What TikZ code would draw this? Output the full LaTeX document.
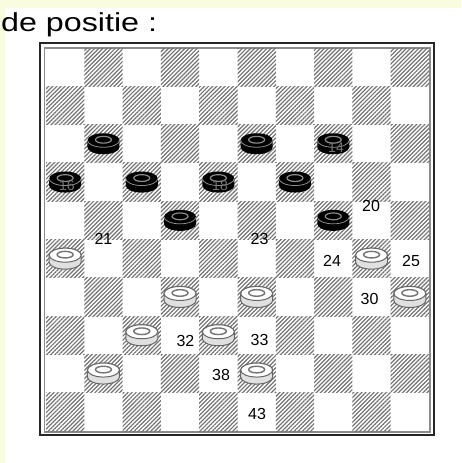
\documentclass[tikz,border=0pt]{standalone}
\usepackage{fontspec}
\setmainfont{Liberation Sans}
\usetikzlibrary{patterns.meta}
\definecolor{bgyellow}{RGB}{250,252,224}
\tikzset{
  hatch/.style={pattern={Lines[angle=45,distance=2.9pt,line width=1.2pt]}, pattern color=black!55},
  lbl/.style={font=\fontsize{16}{16}\selectfont, inner sep=0pt},
  ghost/.style={font=\fontsize{14}{14}\selectfont, inner sep=0pt, text=black!55},
  pbody/.style={insert path={(-16,3.5) -- (-16,-3.5) arc[start angle=180,end angle=360,x radius=16,y radius=7] -- (16,3.5) arc[start angle=0,end angle=180,x radius=16,y radius=7] -- cycle}},
  blackman/.pic={
    \fill[black] [pbody];
    \draw[black!45, line width=0.8] (-16,3.5) arc[start angle=180,end angle=360,x radius=16,y radius=7];
    \draw[black!45, line width=1.2] (0,4) ellipse[x radius=8, y radius=3.4];
  },
  whiteman/.pic={
    \filldraw[fill=black!12, draw=black!60, line width=1] [pbody];
    \filldraw[fill=white, draw=black!60, line width=1] (0,3.5) ellipse[x radius=16, y radius=7];
    \draw[black!55, line width=1.4] (0,4) ellipse[x radius=8, y radius=3.3];
  }
}
\begin{document}
\begin{tikzpicture}[x=1pt,y=1pt]
\useasboundingbox (0,0) rectangle (461,-463);
\fill[bgyellow] (0,0) rectangle (461,-463);
\fill[white] (5,-8) rectangle (461,-463);
\node[anchor=base west, inner sep=0pt] (title) at (1,-31) {\scalebox{1.24}[1]{\fontsize{26}{26}\selectfont de positie :}};
% frame
\draw[black!85, line width=2] (40,-43.3) rectangle (434.3,-435);
\draw[black!45, line width=1.2] (44.8,-48) rectangle (430,-432);
% squares
\foreach \r in {1,...,10} {
  \foreach \c in {1,...,10} {
    \pgfmathtruncatemacro\odd{mod(\r+\c,2)}
    \ifnum\odd=1
      \fill[hatch] ({46+(\c-1)*38.3},{-48-(\r-1)*38.3}) rectangle ++(38.3,-38.3);
    \fi
  }
}
% black pieces
\foreach \r/\c/\n in {3/2/11,3/6/13,3/8/14,4/1/16,4/3/17,4/5/18,4/7/19,5/4/22,5/8/24} {
  \pic (b\n) at ({46+(\c-0.5)*38.3},{-48-(\r-0.5)*38.3}) {blackman};
}
% white pieces
\foreach \r/\c/\n in {6/1/26,6/9/30,7/4/32,7/6/33,7/10/35,8/3/37,8/5/38,9/2/42,9/6/44} {
  \pic (w\n) at ({46+(\c-0.5)*38.3},{-48-(\r-0.5)*38.3}) {whiteman};
}
% faint numbers on pieces
\node[ghost] (g14) at (336,-148) {14};
\node[ghost] (g16) at (67,-186) {16};
\node[ghost] (g18) at (220,-186) {18};
% square numbers
\node[lbl] (l20) at (371,-205.5) {20};
\node[lbl] (l21) at (103.5,-239) {21};
\node[lbl] (l23) at (259.5,-239) {23};
\node[lbl] (l24) at (332,-261) {24};
\node[lbl] (l25) at (411,-261) {25};
\node[lbl] (l30) at (369.5,-298.5) {30};
\node[lbl] (l32) at (185.5,-340.5) {32};
\node[lbl] (l33) at (259.5,-340) {33};
\node[lbl] (l38) at (221,-374.5) {38};
\node[lbl] (l43) at (257,-414) {43};
\end{tikzpicture}
\end{document}
